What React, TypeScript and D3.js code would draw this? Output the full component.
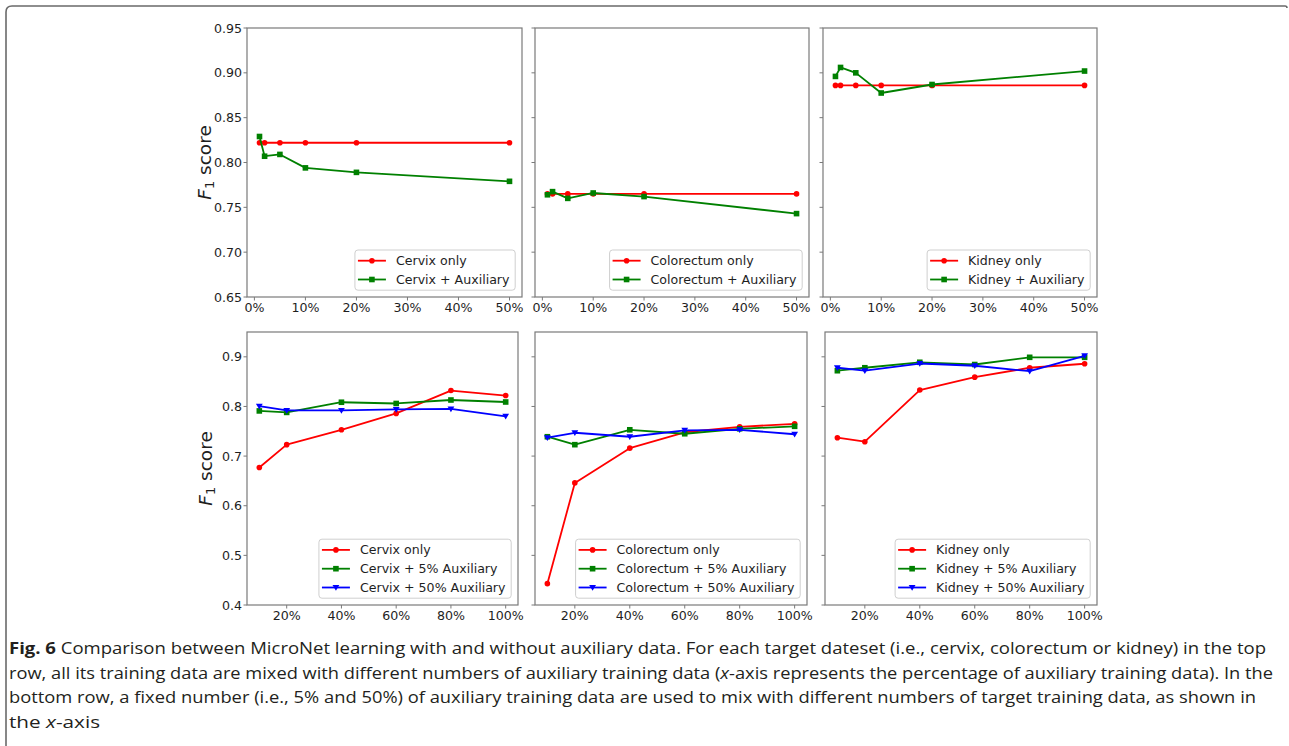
import React from 'react';
import * as d3 from 'd3';

// ---------- data ----------
const topX = [1, 2, 5, 10, 20, 50];
const topXTicks = [0, 10, 20, 30, 40, 50];
const topYTicks = [0.65, 0.7, 0.75, 0.8, 0.85, 0.9, 0.95];

const cervixOnlyTop = [0.822, 0.822, 0.822, 0.822, 0.822, 0.822];
const cervixAuxTop = [0.829, 0.807, 0.809, 0.794, 0.789, 0.779];
const colorectumOnlyTop = [0.765, 0.765, 0.765, 0.765, 0.765, 0.765];
const colorectumAuxTop = [0.764, 0.7675, 0.76, 0.766, 0.762, 0.743];
const kidneyOnlyTop = [0.886, 0.886, 0.886, 0.886, 0.886, 0.886];
const kidneyAuxTop = [0.896, 0.906, 0.9, 0.8775, 0.887, 0.902];

const bottomX = [10, 20, 40, 60, 80, 100];
const bottomXTicks = [20, 40, 60, 80, 100];
const bottomYTicks = [0.4, 0.5, 0.6, 0.7, 0.8, 0.9];

const cervixOnly = [0.677, 0.723, 0.753, 0.786, 0.832, 0.822];
const cervix5 = [0.791, 0.788, 0.8085, 0.806, 0.813, 0.809];
const cervix50 = [0.8005, 0.792, 0.792, 0.794, 0.795, 0.78];
const colorectumOnly = [0.443, 0.646, 0.716, 0.748, 0.759, 0.765];
const colorectum5 = [0.739, 0.723, 0.753, 0.745, 0.755, 0.76];
const colorectum50 = [0.737, 0.747, 0.739, 0.752, 0.753, 0.744];
const kidneyOnly = [0.737, 0.729, 0.833, 0.859, 0.878, 0.886];
const kidney5 = [0.872, 0.878, 0.889, 0.8845, 0.899, 0.899];
const kidney50 = [0.878, 0.872, 0.8865, 0.882, 0.871, 0.902];

const captionLines = [
  [
    { t: 'Fig. 6', b: true },
    { t: ' Comparison between MicroNet learning with and without auxiliary data. For each target dateset (i.e., cervix, colorectum or kidney) in the top' },
  ],
  [
    { t: 'row, all its training data are mixed with different numbers of auxiliary training data (' },
    { t: 'x', i: true },
    { t: '-axis represents the percentage of auxiliary training data). In the' },
  ],
  [
    { t: 'bottom row, a fixed number (i.e., 5% and 50%) of auxiliary training data are used to mix with different numbers of target training data, as shown in' },
  ],
  [{ t: 'the ' }, { t: 'x', i: true }, { t: '-axis' }],
];

// ---------- style ----------
const RED = '#ff0000';
const GREEN = '#008000';
const BLUE = '#0000ff';
const FONT = "'DejaVu Sans', sans-serif";
const FS = 12.6;
const TXT = '#1e1e1e';
const SPINE = '#7a7a7a';

type Series = { label: string; color: string; marker: 'o' | 's' | 'v'; values: number[] };
type PanelDef = {
  x0: number; x1: number; y0: number; y1: number;
  xDomain: [number, number]; yDomain: [number, number];
  xs: number[]; xTicks: number[]; yTicks: number[]; yFmt: string;
  showY: boolean; series: Series[];
};

let ctx: CanvasRenderingContext2D | null = null;
function measure(s: string, size = FS) {
  if (!ctx) ctx = document.createElement('canvas').getContext('2d');
  if (!ctx) return s.length * size * 0.6;
  ctx.font = `${size}px 'DejaVu Sans'`;
  return ctx.measureText(s).width;
}

function Marker({ kind, x, y, color }: { kind: string; x: number; y: number; color: string }) {
  if (kind === 'o') return <circle cx={x} cy={y} r={2.8} fill={color} />;
  if (kind === 's') return <rect x={x - 2.8} y={y - 2.8} width={5.6} height={5.6} fill={color} />;
  const s = 3.4;
  return <path d={`M${x - s},${y - s * 0.75} L${x + s},${y - s * 0.75} L${x},${y + s * 0.95} Z`} fill={color} />;
}

function Legend({ series, right, bottom }: { series: Series[]; right: number; bottom: number }) {
  const tw = Math.max(...series.map((s) => measure(s.label)));
  const w = 41 + tw + 5.7;
  const pitch = 18.8;
  const h = 10.7 * 2 + (series.length - 1) * pitch;
  const left = right - w;
  const top = bottom - h;
  return (
    <g>
      <rect x={left} y={top} width={w} height={h} rx={3} fill="#fff" fillOpacity={0.85} stroke="#cfcfcf" strokeWidth={1} />
      {series.map((s, i) => {
        const cy = top + 10.7 + i * pitch;
        return (
          <g key={s.label}>
            <line x1={left + 3} x2={left + 31} y1={cy} y2={cy} stroke={s.color} strokeWidth={1.8} />
            <Marker kind={s.marker} x={left + 17} y={cy} color={s.color} />
            <text x={left + 41} y={cy + 4.5} fontFamily={FONT} fontSize={FS} fill={TXT}>{s.label}</text>
          </g>
        );
      })}
    </g>
  );
}

function Panel({ p }: { p: PanelDef }) {
  const x = d3.scaleLinear().domain(p.xDomain).range([p.x0, p.x1]);
  const y = d3.scaleLinear().domain(p.yDomain).range([p.y1, p.y0]);
  const fmt = d3.format(p.yFmt);
  return (
    <g>
      {p.series.map((s) => {
        const pts: [number, number][] = p.xs.map((xv, i) => [x(xv), y(s.values[i])]);
        const line = d3.line()(pts) || '';
        return (
          <g key={s.label}>
            <path d={line} fill="none" stroke={s.color} strokeWidth={1.8} strokeLinejoin="round" />
            {pts.map(([px, py], i) => (
              <Marker key={i} kind={s.marker} x={px} y={py} color={s.color} />
            ))}
          </g>
        );
      })}
      <rect x={p.x0} y={p.y0} width={p.x1 - p.x0} height={p.y1 - p.y0} fill="none" stroke={SPINE} strokeWidth={1.2} />
      {p.yTicks.map((t) => (
        <g key={'y' + t}>
          <line x1={p.x0 - 3.5} x2={p.x0} y1={y(t)} y2={y(t)} stroke={SPINE} strokeWidth={1} />
          {p.showY && (
            <text x={p.x0 - 5} y={y(t) + 4.5} textAnchor="end" fontFamily={FONT} fontSize={FS} fill={TXT}>
              {fmt(t)}
            </text>
          )}
        </g>
      ))}
      {p.xTicks.map((t) => (
        <g key={'x' + t}>
          <line x1={x(t)} x2={x(t)} y1={p.y1} y2={p.y1 + 3.5} stroke={SPINE} strokeWidth={1} />
          <text x={x(t)} y={p.y1 + 15} textAnchor="middle" fontFamily={FONT} fontSize={FS} fill={TXT}>
            {t + '%'}
          </text>
        </g>
      ))}
      <Legend series={p.series} right={p.x1 - 6.8} bottom={p.y1 - 6.8} />
    </g>
  );
}

function YLabel({ cx, cy }: { cx: number; cy: number }) {
  return (
    <text transform={`translate(${cx},${cy}) rotate(-90)`} textAnchor="middle" fontFamily={FONT} fontSize={18.5} fill={TXT} dy={6.5}>
      <tspan fontStyle="italic">F</tspan>
      <tspan fontSize={13} dy={3.5}>1</tspan>
      <tspan dy={-3.5}> score</tspan>
    </text>
  );
}

export default function App() {
  const topXDom: [number, number] = [-1.45, 52.45];
  const botXDom: [number, number] = [5.5, 104.5];
  const topYDom: [number, number] = [0.65, 0.95];
  const botYDom: [number, number] = [0.4, 0.95];

  const topBase = { y0: 28, y1: 297, xDomain: topXDom, yDomain: topYDom, xs: topX, xTicks: topXTicks, yTicks: topYTicks, yFmt: '.2f' };
  const botBase = { y0: 332, y1: 605, xDomain: botXDom, yDomain: botYDom, xs: bottomX, xTicks: bottomXTicks, yTicks: bottomYTicks, yFmt: '.1f' };

  const panels: PanelDef[] = [
    { ...topBase, x0: 247, x1: 522, showY: true, series: [
      { label: 'Cervix only', color: RED, marker: 'o', values: cervixOnlyTop },
      { label: 'Cervix + Auxiliary', color: GREEN, marker: 's', values: cervixAuxTop },
    ] },
    { ...topBase, x0: 535, x1: 809, showY: false, series: [
      { label: 'Colorectum only', color: RED, marker: 'o', values: colorectumOnlyTop },
      { label: 'Colorectum + Auxiliary', color: GREEN, marker: 's', values: colorectumAuxTop },
    ] },
    { ...topBase, x0: 823, x1: 1097, showY: false, series: [
      { label: 'Kidney only', color: RED, marker: 'o', values: kidneyOnlyTop },
      { label: 'Kidney + Auxiliary', color: GREEN, marker: 's', values: kidneyAuxTop },
    ] },
    { ...botBase, x0: 247, x1: 518, showY: true, series: [
      { label: 'Cervix only', color: RED, marker: 'o', values: cervixOnly },
      { label: 'Cervix + 5% Auxiliary', color: GREEN, marker: 's', values: cervix5 },
      { label: 'Cervix + 50% Auxiliary', color: BLUE, marker: 'v', values: cervix50 },
    ] },
    { ...botBase, x0: 535, x1: 807, showY: false, series: [
      { label: 'Colorectum only', color: RED, marker: 'o', values: colorectumOnly },
      { label: 'Colorectum + 5% Auxiliary', color: GREEN, marker: 's', values: colorectum5 },
      { label: 'Colorectum + 50% Auxiliary', color: BLUE, marker: 'v', values: colorectum50 },
    ] },
    { ...botBase, x0: 825, x1: 1097, showY: false, series: [
      { label: 'Kidney only', color: RED, marker: 'o', values: kidneyOnly },
      { label: 'Kidney + 5% Auxiliary', color: GREEN, marker: 's', values: kidney5 },
      { label: 'Kidney + 50% Auxiliary', color: BLUE, marker: 'v', values: kidney50 },
    ] },
  ];

  const capBase = [654, 678.5, 703, 727.5];
  const capLen = [1257, 1264, 1247, 91];

  return (
    <svg width={1289} height={746} style={{ position: 'absolute', left: 0, top: 0, background: '#fff' }}>
      <rect width={1289} height={746} fill="#fff" />
      <path d="M6,746 L6,12 Q6,6 12,6 L1285,6 Q1287,6 1287,8" fill="none" stroke="#6a6a6a" strokeWidth={1.6} />
      {panels.map((p, i) => (
        <Panel key={i} p={p} />
      ))}
      <YLabel cx={204} cy={162.5} />
      <YLabel cx={205} cy={468.5} />
      {captionLines.map((line, i) => (
        <text key={i} x={9} y={capBase[i]} fontFamily="'Open Sans', sans-serif" fontSize={16} fill="#231f20" textLength={capLen[i]} lengthAdjust="spacingAndGlyphs">
          {line.map((seg: any, j: number) => (
            <tspan key={j} fontWeight={seg.b ? 'bold' : 'normal'} fontStyle={seg.i ? 'italic' : 'normal'}>{seg.t}</tspan>
          ))}
        </text>
      ))}
    </svg>
  );
}
